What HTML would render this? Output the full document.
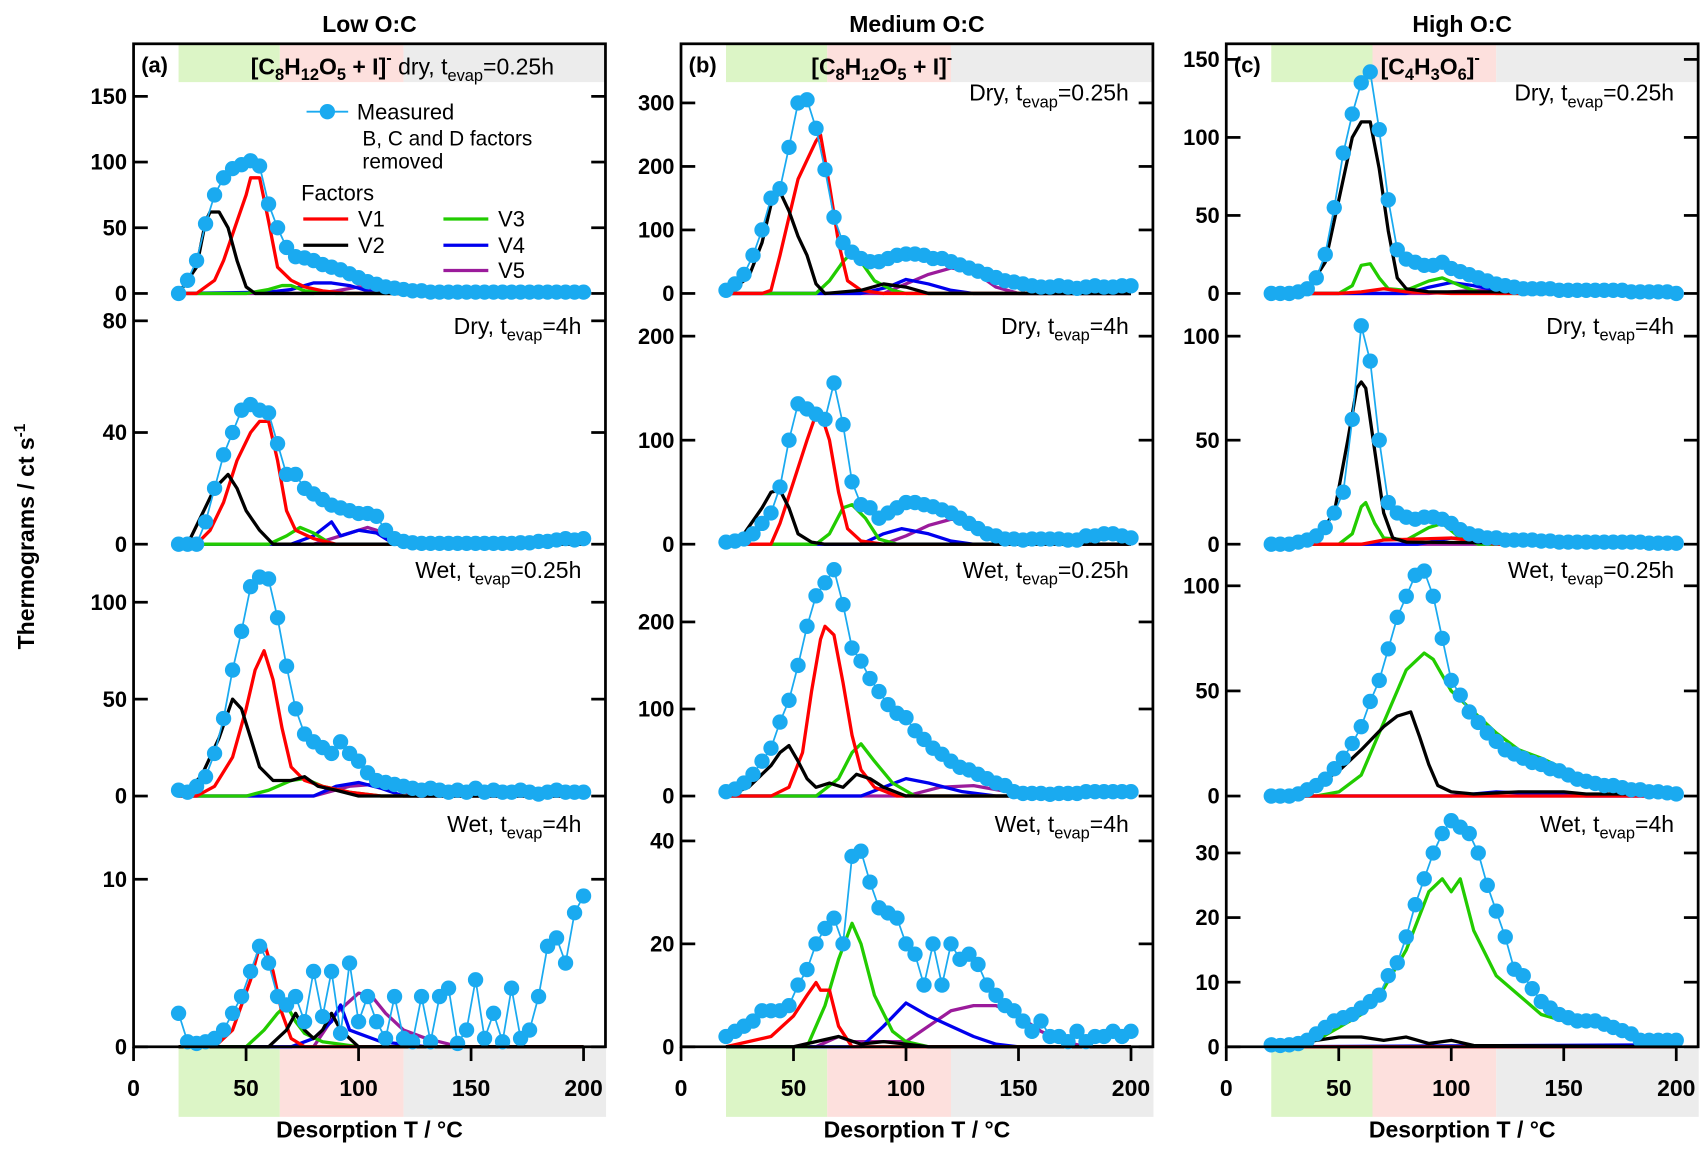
<!DOCTYPE html>
<html><head><meta charset="utf-8"><style>
html,body{margin:0;padding:0;background:#fff;}
svg{display:block;font-family:"Liberation Sans",Arial,sans-serif;}
</style></head><body>
<svg id="chart" width="1708" height="1153" viewBox="0 0 1560 1053" preserveAspectRatio="none" xmlns="http://www.w3.org/2000/svg"></svg>
<script>
const temps=[20,24,28,32,36,40,44,48,52,56,60,64,68,72,76,80,84,88,92,96,100,104,108,112,116,120,124,128,132,136,140,144,148,152,156,160,164,168,172,176,180,184,188,192,196,200];
const mA1=[0,10,25,53,75,88,95,98,101,97,68,50,35,28,27,25,22,20,18,15,12,9,7,5,4,3,2,2,1,1,1,1,1,1,1,1,1,1,1,1,1,1,1,1,1,1];
const mA2=[0,0,0,8,20,32,40,48,50,48,47,36,25,25,20,18,16,14,13,12,11,11,10,5,2,1,0.5,0.3,0.3,0.3,0.3,0.3,0.3,0.3,0.3,0.3,0.3,0.3,0.5,0.5,1,1,1.5,2,1.5,2];
const mA3=[3,2,5,10,22,40,65,85,108,113,112,92,67,45,32,28,25,22,28,22,18,12,8,7,6,5,4,3,4,3,2,3,2,4,2,3,2,2,3,2,1,2,3,2,2,2];
const mA4=[2,0.3,0.2,0.3,0.5,1,2,3,4.5,6,5,3,2.5,3,1.5,4.5,1.8,4.5,0.8,5,1.5,3,1.5,0.5,3,0.5,0.3,3,0.3,3,3.5,0.2,1,4,0.5,2,0.3,3.5,0.5,1,3,6,6.5,5,8,9];
const mB1=[5,15,30,60,100,150,165,230,300,305,260,195,120,80,65,55,50,50,55,60,62,62,60,55,55,50,45,40,35,30,25,20,18,15,12,10,10,12,10,8,10,12,10,10,12,12];
const mB2=[2,3,5,10,20,30,55,100,135,130,125,120,155,115,60,38,35,25,30,35,40,40,38,36,33,30,25,20,15,10,8,5,5,4,5,5,5,5,4,4,8,8,10,10,8,6];
const mB3=[5,8,15,25,40,55,85,110,150,195,230,245,260,220,170,155,135,120,105,95,90,75,65,55,48,40,33,30,25,20,15,12,5,3,3,3,2,3,3,3,5,5,5,5,5,5];
const mB4=[2,3,4,5,7,7,7,8,12,15,20,23,25,20,37,38,32,27,26,25,20,18,12,20,12,20,17,18,16,12,10,8,7,5,3,5,2,2,1,3,1,2,2,3,2,3];
const mC1=[0,0,0,1,3,10,25,55,90,115,135,142,105,60,28,22,20,18,18,20,16,14,12,10,8,6,5,4,3,3,3,3,2,2,2,2,2,2,2,2,1,1,1,1,1,0];
const mC2=[0,0,0,1,2,4,8,15,25,60,105,88,50,20,15,13,12,13,13,12,10,7,5,4,3,3,2,2,2,2,1.5,1.5,1,1,1,1,1,1,1,1,1,1,0.5,0.5,0.5,0.5];
const mC3=[0,0,0,1,3,5,8,13,18,25,33,45,55,70,85,95,105,107,95,75,55,48,40,35,30,26,22,20,18,16,15,13,12,10,8,7,6,5,5,4,3,3,2,2,1.5,1];
const mC4=[0.3,0.2,0.3,0.5,1,2,3,4,4.5,5,6,7,8,11,13,17,22,26,30,33,35,34,33,30,25,21,17,12,11,9,7,6,5,4.5,4,4,4,3.5,3,2.5,2,1,1,1,1,1];

const fA1V1=[[20,0],[28,0],[36,10],[40,25],[46,55],[50,75],[52,88],[56,88],[60,55],[64,20],[70,10],[76,5],[84,2],[95,0],[200,0]];
const fA1V2=[[20,0],[28,20],[32,55],[34,62],[38,62],[42,50],[46,25],[50,5],[54,0],[200,0]];
const fA1V3=[[20,0],[50,0],[60,3],[66,6],[70,6],[76,2],[90,0],[200,0]];
const fA1V4=[[20,0],[60,1],[70,3],[80,8],[88,8],[96,6],[104,2],[115,0],[200,0]];
const fA1V5=[[20,0],[80,0],[90,2],[100,5],[108,4],[116,1],[125,0],[200,0]];
const fA2V1=[[20,0],[28,0],[34,5],[40,15],[46,30],[52,40],[56,44],[60,44],[64,30],[68,12],[72,5],[80,2],[90,0],[200,0]];
const fA2V2=[[20,0],[24,0],[30,10],[36,20],[42,25],[46,20],[50,12],[56,5],[62,0],[200,0]];
const fA2V3=[[20,0],[60,0],[68,3],[74,6],[80,4],[88,0],[200,0]];
const fA2V4=[[20,0],[70,0],[80,3],[88,8],[92,3],[100,5],[108,4],[116,0],[200,0]];
const fA2V5=[[20,0],[80,0],[92,3],[104,6],[112,4],[120,0],[200,0]];
const fA3V1=[[20,0],[28,0],[36,5],[44,20],[50,45],[54,65],[58,75],[62,60],[66,35],[70,15],[76,8],[84,5],[96,2],[110,0],[200,0]];
const fA3V2=[[20,0],[30,10],[38,30],[44,50],[48,45],[52,30],[56,15],[62,8],[70,8],[76,10],[82,5],[90,3],[100,0],[200,0]];
const fA3V3=[[20,0],[50,0],[60,3],[70,8],[76,9],[84,5],[96,2],[110,0],[200,0]];
const fA3V4=[[20,0],[80,0],[90,5],[100,7],[110,4],[120,0],[200,0]];
const fA3V5=[[20,0],[80,0],[96,5],[106,6],[116,4],[126,0],[200,0]];
const fA4V1=[[20,0],[36,0],[44,1],[52,4],[56,6],[58,6.2],[62,4.5],[66,2],[70,0.5],[76,0],[200,0]];
const fA4V2=[[20,0],[60,0],[68,1],[72,2],[76,1],[80,0.5],[84,1],[88,2],[92,1],[96,0.5],[100,0],[200,0]];
const fA4V3=[[20,0],[50,0],[58,1],[64,2],[68,2.5],[72,1.5],[76,0.8],[84,0.3],[100,0],[200,0]];
const fA4V4=[[20,0],[70,0],[80,0.5],[88,1.5],[92,2.5],[96,1],[100,0.8],[110,0.3],[130,0],[200,0]];
const fA4V5=[[20,0],[80,0],[90,2],[100,3.2],[106,3],[112,2],[120,1],[130,0.5],[145,0],[200,0]];
const fB1V1=[[20,0],[36,0],[40,5],[44,60],[48,120],[52,180],[56,210],[60,240],[62,250],[66,170],[70,80],[74,20],[80,5],[90,0],[200,0]];
const fB1V2=[[20,0],[30,25],[36,80],[40,140],[44,160],[48,130],[52,90],[56,60],[60,15],[64,0],[80,5],[90,15],[100,10],[110,0],[200,0]];
const fB1V3=[[20,0],[60,0],[66,20],[72,50],[76,65],[80,50],[86,20],[94,5],[100,0],[200,0]];
const fB1V4=[[20,0],[80,0],[92,10],[100,22],[110,15],[120,5],[130,0],[200,0]];
const fB1V5=[[20,0],[90,0],[100,15],[110,30],[120,40],[130,35],[140,10],[150,0],[200,0]];
const fB2V1=[[20,0],[40,0],[44,20],[50,60],[56,100],[60,125],[62,127],[66,100],[70,50],[74,15],[80,3],[90,0],[200,0]];
const fB2V2=[[20,0],[28,10],[36,35],[40,50],[44,52],[48,35],[52,10],[58,2],[64,0],[200,0]];
const fB2V3=[[20,0],[60,0],[66,10],[72,35],[76,38],[82,25],[88,5],[96,0],[200,0]];
const fB2V4=[[20,0],[80,0],[90,10],[98,15],[110,10],[120,3],[130,0],[200,0]];
const fB2V5=[[20,0],[90,0],[100,8],[110,18],[120,24],[130,22],[140,8],[150,0],[200,0]];
const fB3V1=[[20,0],[40,0],[48,10],[54,50],[58,120],[62,180],[64,195],[68,185],[72,130],[76,70],[80,30],[86,10],[96,0],[200,0]];
const fB3V2=[[20,0],[30,10],[40,35],[44,50],[48,58],[52,40],[56,20],[60,10],[66,15],[72,10],[78,25],[84,20],[90,10],[100,0],[200,0]];
const fB3V3=[[20,0],[60,0],[70,20],[76,50],[80,60],[86,40],[94,15],[104,0],[200,0]];
const fB3V4=[[20,0],[80,0],[90,10],[100,20],[110,15],[125,5],[140,0],[200,0]];
const fB3V5=[[20,0],[100,0],[115,10],[130,12],[145,5],[160,0],[200,0]];
const fB4V1=[[20,0],[40,2],[50,6],[56,10],[60,12.5],[62,11],[66,11],[70,4],[76,0],[200,0]];
const fB4V2=[[20,0],[50,0],[60,1],[70,2],[80,0.5],[90,1],[100,0.5],[110,0],[200,0]];
const fB4V3=[[20,0],[56,0],[64,8],[70,17],[76,24],[80,20],[86,10],[94,3],[100,1],[110,0],[200,0]];
const fB4V4=[[20,0],[80,0],[90,4],[100,8.5],[110,6],[120,4],[130,2],[140,0.5],[150,0],[200,0]];
const fB4V5=[[20,0],[60,0],[70,2],[76,1],[100,1],[110,4],[120,7],[130,8],[140,8],[150,6],[160,3],[170,1],[180,0],[200,0]];
const fC1V1=[[20,0],[50,0],[60,1],[70,3],[80,1],[100,0],[200,0]];
const fC1V2=[[20,0],[36,2],[44,20],[50,60],[56,100],[60,110],[64,110],[68,80],[72,40],[76,10],[80,3],[90,1],[120,1],[200,0]];
const fC1V3=[[20,0],[50,0],[56,5],[60,18],[64,19],[68,10],[72,3],[80,2],[90,8],[96,10],[104,5],[112,1],[120,0],[200,0]];
const fC1V4=[[20,0],[80,0],[90,4],[100,7],[110,5],[120,2],[130,0],[200,0]];
const fC1V5=[[20,0],[90,0],[110,2],[130,1],[150,0],[200,0]];
const fC2V1=[[20,0],[60,0],[70,2],[100,3],[120,0],[200,0]];
const fC2V2=[[20,0],[30,0],[40,3],[48,15],[54,50],[58,75],[60,78],[62,75],[66,45],[70,15],[74,3],[80,1],[200,0]];
const fC2V3=[[20,0],[50,0],[56,5],[60,18],[62,20],[66,10],[70,3],[80,2],[90,8],[96,10],[104,3],[112,0],[200,0]];
const fC2V4=[[20,0],[85,0],[100,3],[115,2],[125,0],[200,0]];
const fC2V5=[[20,0],[200,0]];
const fC3V1=[[20,0],[200,0]];
const fC3V2=[[20,0],[30,2],[40,5],[50,12],[60,22],[70,33],[76,38],[82,40],[86,28],[90,15],[94,5],[100,2],[110,1],[130,2],[150,2],[160,1],[180,1],[200,0]];
const fC3V3=[[20,0],[40,0],[50,2],[60,10],[70,35],[80,60],[88,68],[92,65],[100,50],[110,40],[120,30],[130,22],[140,18],[150,13],[160,8],[170,5],[180,3],[190,2],[200,1]];
const fC3V4=[[20,0],[100,0],[120,2],[140,1],[160,0],[200,0]];
const fC3V5=[[20,0],[200,0]];
const fC4V1=[[20,0],[200,0]];
const fC4V2=[[20,0],[40,1],[50,1.5],[60,1.5],[70,1],[80,1.5],[90,0.5],[100,1],[110,0.2],[200,0]];
const fC4V3=[[20,0],[40,1],[50,3],[60,5],[70,9],[80,15],[90,24],[96,26],[100,24],[104,26],[110,18],[120,11],[130,8],[140,5],[150,4],[160,4],[170,3],[180,2],[190,1],[200,0.5]];
const fC4V4=[[20,0],[200,0.3]];
const fC4V5=[[20,0],[200,0]];

const xTicks=[0,50,100,150,200];
const ticksA=[[0,50,100,150],[0,40,80],[0,50,100],[0,10]];
const ticksB=[[0,100,200,300],[0,100,200],[0,100,200],[0,20,40]];
const ticksC=[[0,50,100,150],[0,50,100],[0,50,100],[0,10,20,30]];
const rowLabels=[["","Dry, t","evap","=0.25h"],["Dry, t","evap","=4h"],["Wet, t","evap","=0.25h"],["Wet, t","evap","=4h"]];

const NS="http://www.w3.org/2000/svg";
const svg=document.getElementById('chart');
function mk(tag,attrs,parent){const e=document.createElementNS(NS,tag);for(const k in attrs)e.setAttribute(k,attrs[k]);(parent||svg).appendChild(e);return e;}
const lefts=[122,622,1120];
const W=431, TOP=40, BOTTOM=956;
const zeros=[268,497,727,956];
const ppuA=[1.2,2.55,1.77,15.3], ppuB=[0.58,0.95,0.795,4.7], ppuC=[1.425,1.9,1.92,5.9];
const cols=[
 {ticks:ticksA,ppu:ppuA,meas:[mA1,mA2,mA3,mA4],f:[[fA1V1,fA1V2,fA1V3,fA1V4,fA1V5],[fA2V1,fA2V2,fA2V3,fA2V4,fA2V5],[fA3V1,fA3V2,fA3V3,fA3V4,fA3V5],[fA4V1,fA4V2,fA4V3,fA4V4,fA4V5]]},
 {ticks:ticksB,ppu:ppuB,meas:[mB1,mB2,mB3,mB4],f:[[fB1V1,fB1V2,fB1V3,fB1V4,fB1V5],[fB2V1,fB2V2,fB2V3,fB2V4,fB2V5],[fB3V1,fB3V2,fB3V3,fB3V4,fB3V5],[fB4V1,fB4V2,fB4V3,fB4V4,fB4V5]]},
 {ticks:ticksC,ppu:ppuC,meas:[mC1,mC2,mC3,mC4],f:[[fC1V1,fC1V2,fC1V3,fC1V4,fC1V5],[fC2V1,fC2V2,fC2V3,fC2V4,fC2V5],[fC3V1,fC3V2,fC3V3,fC3V4,fC3V5],[fC4V1,fC4V2,fC4V3,fC4V4,fC4V5]]}
];
const fColors=["#ff0000","#000000","#22cc00","#0000ee","#9b1b9b"];
const drawOrder=[4,3,2,0,1];
const MC="#1aaaf0";
const titles=["Low O:C","Medium O:C","High O:C"];
const letters=["(a)","(b)","(c)"];

cols.forEach((col,ci)=>{
  const L=lefts[ci];
  const xs=T=>L+T*2.055;
  const g=mk('g',{});
  
  
  [[20,65,"#dcf5c6"],[65,120,"#fde0dd"],[120,210,"#ececec"]].forEach(b=>{
    const r1=mk('rect',{x:xs(b[0]),y:TOP,width:xs(b[1])-xs(b[0]),height:35,fill:b[2]},g);
    
    
    const r2=mk('rect',{x:xs(b[0]),y:BOTTOM,width:xs(b[1])-xs(b[0]),height:64,fill:b[2]},g);
    
    
  });
  const t=mk('text',{x:L+W/2,y:29,'text-anchor':'middle','font-size':21,'font-weight':'bold'},g);
  t.textContent=titles[ci];
  
  
  const lt=mk('text',{x:L+7,y:66,'font-size':20,'font-weight':'bold'},g);
  lt.textContent=letters[ci];
  
  
  for(let r=0;r<4;r++){
    const z=zeros[r], p=col.ppu[r];
    const ys=v=>z-v*p;
    col.ticks[r].forEach(v=>{
      const y=ys(v);
      const tl=mk('line',{x1:L,x2:L+13,y1:y,y2:y,stroke:'#000','stroke-width':2.5},g);
      
      
      const tr=mk('line',{x1:L+W-13,x2:L+W,y1:y,y2:y,stroke:'#000','stroke-width':2.5},g);
      
      
      const tx=mk('text',{x:L-6,y:y+7,'text-anchor':'end','font-size':20,'font-weight':'bold'},g);
      tx.textContent=v;
      
      
    });
    drawOrder.forEach(k=>{
      const d=col.f[r][k].map((pt,i)=>(i?'L':'M')+xs(pt[0]).toFixed(1)+','+ys(pt[1]).toFixed(1)).join(' ');
      const pl=mk('path',{d:d,fill:'none',stroke:fColors[k],'stroke-width':3,'stroke-linejoin':'round'},g);
      
      
    });
    const m=col.meas[r];
    const md=temps.map((T,i)=>(i?'L':'M')+xs(T).toFixed(1)+','+ys(m[i]).toFixed(1)).join(' ');
    const ml=mk('path',{d:md,fill:'none',stroke:MC,'stroke-width':1.6},g);
    
    
    temps.forEach((T,i)=>{
      const c=mk('circle',{cx:xs(T),cy:ys(m[i]),r:7,fill:MC},g);
      
      
    });
    if(!(ci===0&&r===0)){
      const lab=rowLabels[r];
      const parts=lab[0]===""?lab.slice(1):lab;
      const yl=[92,305,528,760][r];
      const tt=mk('text',{x:L+W-22,y:yl,'text-anchor':'end','font-size':21},g);
      
      
      const a=mk('tspan',{},tt);a.textContent=parts[0];
      const b=mk('tspan',{'font-size':15,dy:6},tt);b.textContent=parts[1];
      const c2=mk('tspan',{dy:-6},tt);c2.textContent=parts[2];
    }
  }
  const fr=mk('rect',{x:L,y:TOP,width:W,height:BOTTOM-TOP,fill:'none',stroke:'#000','stroke-width':2.5},g);
  
  
  xTicks.forEach(v=>{
    const tk=mk('line',{x1:xs(v),x2:xs(v),y1:BOTTOM,y2:BOTTOM+13,stroke:'#000','stroke-width':2.5},g);
    
    
    const tl=mk('text',{x:xs(v),y:1001,'text-anchor':'middle','font-size':21,'font-weight':'bold'},g);
    tl.textContent=v;
    
    
  });
  const xt=mk('text',{x:L+W/2,y:1039,'text-anchor':'middle','font-size':21,'font-weight':'bold'},g);
  xt.textContent="Desorption T / °C";
  
  
});

function ion(x,y,parts,name){
  const t=mk('text',{x:x,y:y,'font-size':21,'font-weight':'bold'});
  
  
  parts.forEach(p=>{const s=mk('tspan',p[1]||{},t);s.textContent=p[0];});
  return t;
}
ion(229,68,[["[C"],["8",{'font-size':15,dy:5}],["H",{dy:-5}],["12",{'font-size':15,dy:5}],["O",{dy:-5}],["5",{'font-size':15,dy:5}],[" + I]",{dy:-5}],["-",{'font-size':15,dy:-10}],[" dry, t",{dy:10,'font-weight':'normal'}],["evap",{'font-size':15,dy:6,'font-weight':'normal'}],["=0.25h",{dy:-6,'font-weight':'normal'}]],'ion-label-a');
ion(741,68,[["[C"],["8",{'font-size':15,dy:5}],["H",{dy:-5}],["12",{'font-size':15,dy:5}],["O",{dy:-5}],["5",{'font-size':15,dy:5}],[" + I]",{dy:-5}],["-",{'font-size':15,dy:-10}]],'ion-label-b');
ion(1261,68,[["[C"],["4",{'font-size':15,dy:5}],["H",{dy:-5}],["3",{'font-size':15,dy:5}],["O",{dy:-5}],["6",{'font-size':15,dy:5}],["]",{dy:-5}],["-",{'font-size':15,dy:-10}]],'ion-label-c');

const yt=mk('text',{x:0,y:0,transform:'translate(31,490) rotate(-90)','text-anchor':'middle','font-size':21,'font-weight':'bold'});


const y1=mk('tspan',{},yt);y1.textContent="Thermograms / ct s";
const y2=mk('tspan',{'font-size':14,dy:-8},yt);y2.textContent="-1";

const lg=mk('g',{});


const l1=mk('line',{x1:280,x2:318,y1:102,y2:102,stroke:MC,'stroke-width':1.6},lg);


const l2=mk('circle',{cx:299,cy:102,r:7,fill:MC},lg);


[["Measured",326,109,20],["B, C and D factors",331,133,19],["removed",331,154,19],["Factors",275,183,20]].forEach(a=>{
  const t=mk('text',{x:a[1],y:a[2],'font-size':a[3]},lg);t.textContent=a[0];
  
  
});
[["V1",277,200,0],["V2",277,224,1],["V3",405,200,2],["V4",405,224,3],["V5",405,247,4]].forEach(a=>{
  const ln=mk('line',{x1:a[1],x2:a[1]+41,y1:a[2],y2:a[2],stroke:fColors[a[3]],'stroke-width':3},lg);
  
  
  const t=mk('text',{x:a[1]+50,y:a[2]+7,'font-size':20},lg);t.textContent=a[0];
  
  
});
</script>
</body></html>
